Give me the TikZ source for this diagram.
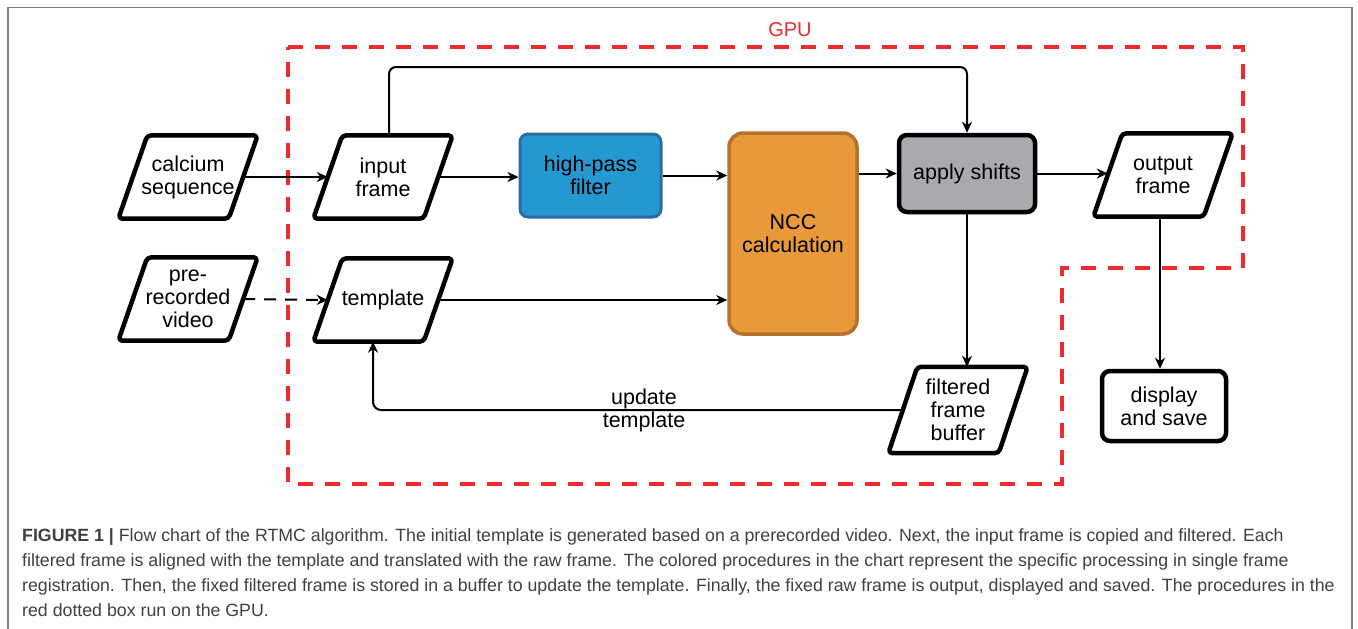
\documentclass[tikz,border=0pt]{standalone}
\usepackage{fontspec}
\setmainfont{Liberation Sans}
\usetikzlibrary{arrows.meta}
\definecolor{gpured}{HTML}{EE2A2D}
\definecolor{hpblue}{HTML}{2598D2}
\definecolor{hpedge}{HTML}{2A6DA5}
\definecolor{nccfill}{HTML}{E8993A}
\definecolor{nccedge}{HTML}{B5722F}
\definecolor{shiftgray}{HTML}{A8AAAD}
\definecolor{framegray}{HTML}{808080}
\definecolor{captext}{HTML}{404040}
\newcommand\parabox[4]{%
  \node[ptext] (#1) at (#2,#3) {#4};
  \draw[pline] ([xshift=-14.5pt]#1.south west) -- ([xshift=-14.5pt]#1.south east) -- ([xshift=14.5pt]#1.north east) -- ([xshift=14.5pt]#1.north west) -- cycle;
}
\begin{document}
\begin{tikzpicture}[x=1pt,y=-1pt,
  lbl/.style={font=\fontsize{21.5}{23}\selectfont, align=center, inner sep=0pt},
  ptext/.style={lbl, minimum width=110pt, minimum height=83pt},
  pline/.style={line width=4.5pt, rounded corners=4pt, line join=round},
  rbox/.style={lbl, draw, line width=4.5pt, rounded corners=8pt},
  conn/.style={line width=2pt, -{Stealth[length=11pt,width=10pt,inset=3.5pt]}},
  gpuline/.style={gpured, line width=4.5pt, dash pattern=on 15pt off 12pt},
  capline/.style={font=\fontsize{17.75}{25}\selectfont, text=captext, anchor=base west, inner sep=0pt}]
\useasboundingbox (0,0) rectangle (1358,629);
\fill[white] (0,0) rectangle (1358,629);
% frame
\draw[framegray, line width=1.5pt] (8,629) -- (8,7.5) -- (1352,7.5) -- (1352,629);
% GPU region
\draw[gpuline] (288,47) -- (1243,47) -- (1243,268) -- (1062,268) -- (1062,484) -- (288,484) -- cycle;
\node[text=gpured, font=\fontsize{20}{24}\selectfont] (gpu) at (790,30) {GPU};
% parallelograms
\parabox{calc}{188}{177}{calcium\\sequence}
\parabox{input}{383}{177}{input\\frame}
\parabox{prerec}{188}{299}{pre-\\recorded\\video}
\parabox{templ}{383}{300}{template}
\parabox{output}{1163}{175}{output\\frame}
\node[ptext, minimum height=86pt] (fbuf) at (958,410) {filtered\\frame\\buffer};
\draw[pline] ([xshift=-14.5pt]fbuf.south west) -- ([xshift=-14.5pt]fbuf.south east) -- ([xshift=14.5pt]fbuf.north east) -- ([xshift=14.5pt]fbuf.north west) -- cycle;
% rounded boxes
\node[rbox, fill=hpblue, draw=hpedge, line width=3pt, minimum width=141pt, minimum height=83pt] (hpf) at (590.5,175.5) {high-pass\\filter};
\node[rbox, fill=nccfill, draw=nccedge, line width=3.5pt, rounded corners=14pt, minimum width=128pt, minimum height=201pt] (ncc) at (793,233.5) {NCC\\calculation};
\node[rbox, fill=shiftgray, minimum width=136pt, minimum height=77pt] (apply) at (967,173.5) {apply shifts};
\node[rbox, fill=white, minimum width=124pt, minimum height=70pt] (disp) at (1164,406) {display\\and save};
% connectors
\draw[conn] (calc.east) -- (input.west);
\draw[conn] (input.east) -- (input.east -| hpf.west);
\draw[conn] (hpf.east) -- (hpf.east -| ncc.west);
\draw[conn] (apply.west -| ncc.east) -- (apply.west);
\draw[conn] (apply.east) -- (apply.east -| output.west);
\draw[conn] (templ.east) -- (templ.east -| ncc.west);
\draw[conn, dash pattern=on 12pt off 9pt] (prerec.east) -- (templ.west);
\coordinate (bend) at (389,67);
\draw[conn, rounded corners=7pt] ([xshift=6pt]input.north) -- ([xshift=6pt]input.north |- bend) -| (apply.north);
\draw[conn] (apply.south) -- (apply.south |- fbuf.north);
\draw[conn] ([xshift=-3pt]output.south) -- ([xshift=-3pt]output.south |- disp.north);
\draw[conn, rounded corners=8pt] (fbuf.west) -| ([xshift=-10pt]templ.south);
\node[lbl] (upd) at (644,410) {update\\template};
% caption
\node[capline] (c1) at (22,541) {\textbf{FIGURE 1 |} Flow chart of the RTMC algorithm. The initial template is generated based on a prerecorded video. Next, the input frame is copied and filtered. Each};
\node[capline] (c2) at (22,566) {filtered frame is aligned with the template and translated with the raw frame. The colored procedures in the chart represent the specific processing in single frame};
\node[capline] (c3) at (22,591) {registration. Then, the fixed filtered frame is stored in a buffer to update the template. Finally, the fixed raw frame is output, displayed and saved. The procedures in the};
\node[capline] (c4) at (22,616) {red dotted box run on the GPU.};
\end{tikzpicture}
\end{document}
